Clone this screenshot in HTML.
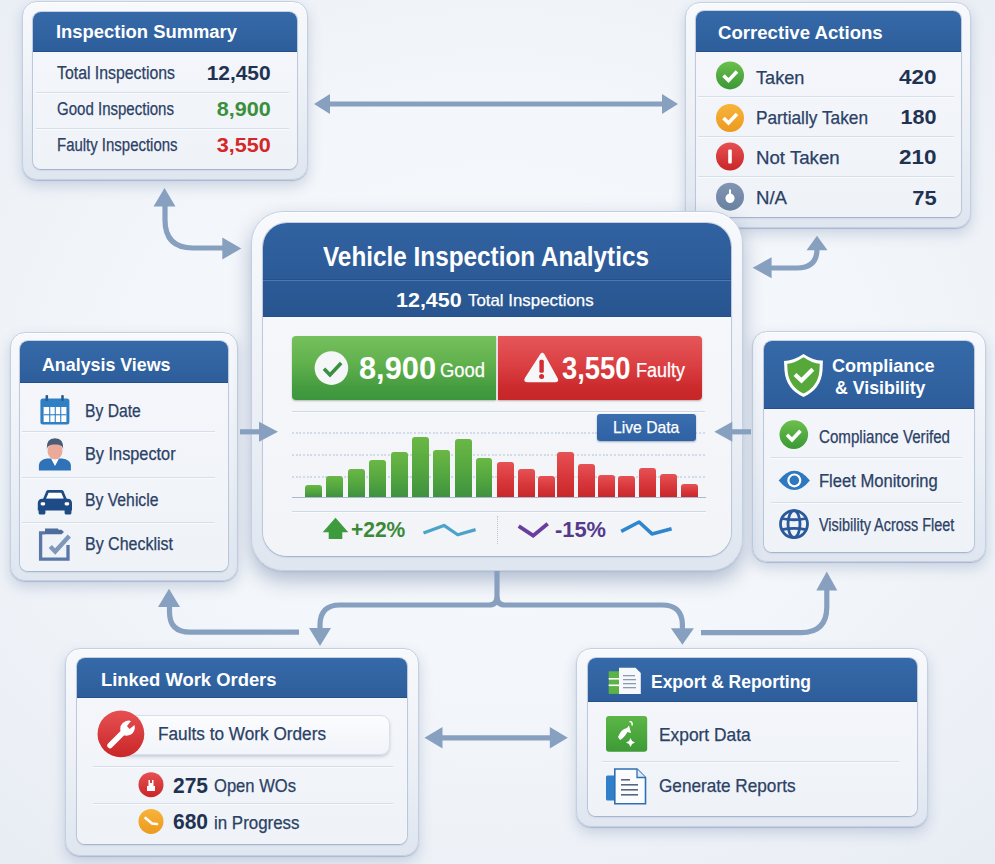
<!DOCTYPE html>
<html><head><meta charset="utf-8"><title>Vehicle Inspection Analytics</title>
<style>
html,body{margin:0;padding:0;}
body{width:995px;height:864px;overflow:hidden;position:relative;font-family:"Liberation Sans",sans-serif;
 background:radial-gradient(ellipse 80% 75% at 50% 45%,#f7f9fc 0%,#f3f6fa 45%,#ecf0f6 80%,#e6ebf3 100%);}
#root{position:absolute;left:0;top:0;width:995px;height:864px;}
.t{position:absolute;white-space:nowrap;line-height:normal;font-family:"Liberation Sans",sans-serif;}
.frame{position:absolute;box-sizing:border-box;border-radius:15px;
 background:linear-gradient(180deg,#f7f9fc 0%,#ecf0f6 55%,#dfe6f0 100%);
 border:1px solid #c4d0e1;
 box-shadow:0 1px 1px #a9b9d0, 0 6px 14px rgba(60,90,140,0.22), inset 0 1px 0 #ffffff;}
.card{position:absolute;box-sizing:border-box;border-radius:8px;overflow:hidden;
 background:linear-gradient(180deg,#f5f7fb 0%,#eff2f7 100%);
 box-shadow:0 1px 2px rgba(70,95,140,0.32), 0 0 0 1px rgba(190,203,222,0.8);}
.hdr{position:absolute;left:0;top:0;right:0;background:linear-gradient(180deg,#3669a8 0%,#3163a1 60%,#2d5d9a 100%);
 box-shadow:inset 0 -1px 0 #24508a;}
.sep{position:absolute;height:1px;background:#d5dde9;box-shadow:0 1px 0 #fafbfd;}
svg{position:absolute;left:0;top:0;overflow:visible;}

.rg{-webkit-text-stroke:0.25px currentColor;}

</style></head><body>
<div id="root">
<div class="frame" style="left:22px;top:1px;width:286px;height:179px;border-radius:15px;"></div>
<div class="card" style="left:33px;top:11.5px;width:264px;height:157.0px;border-radius:8px;"><div class="hdr" style="height:40.0px;"></div></div>
<div class="sep" style="left:36px;top:91.6px;width:253px;background:#d6deea"></div>
<div class="sep" style="left:36px;top:127.5px;width:253px;background:#d6deea"></div>
<div class="frame" style="left:684.5px;top:1.5px;width:286.5px;height:226.0px;border-radius:15px;"></div>
<div class="card" style="left:695.5px;top:11px;width:265.5px;height:206px;border-radius:8px;"><div class="hdr" style="height:40.6px;"></div></div>
<div class="sep" style="left:698px;top:96px;width:256px;background:#d6deea"></div>
<div class="sep" style="left:698px;top:136px;width:256px;background:#d6deea"></div>
<div class="sep" style="left:698px;top:176.3px;width:256px;background:#d6deea"></div>
<div class="frame" style="left:9.7px;top:332px;width:228.3px;height:249px;border-radius:15px;"></div>
<div class="card" style="left:20px;top:341px;width:208px;height:230px;border-radius:8px;"><div class="hdr" style="height:42.19999999999999px;"></div></div>
<div class="sep" style="left:22px;top:430.8px;width:193px;background:#d6deea"></div>
<div class="sep" style="left:22px;top:476.7px;width:193px;background:#d6deea"></div>
<div class="sep" style="left:22px;top:521.5px;width:193px;background:#d6deea"></div>
<div class="frame" style="left:751.6px;top:331.4px;width:234.10000000000002px;height:230.60000000000002px;border-radius:15px;"></div>
<div class="card" style="left:763.7px;top:341px;width:209.89999999999998px;height:210.60000000000002px;border-radius:8px;"><div class="hdr" style="height:67.69999999999999px;"></div></div>
<div class="sep" style="left:771px;top:457.4px;width:191px;background:#d6deea"></div>
<div class="sep" style="left:771px;top:501.5px;width:191px;background:#d6deea"></div>
<div class="frame" style="left:65px;top:647.6px;width:353.6px;height:208.39999999999998px;border-radius:15px;"></div>
<div class="card" style="left:76.7px;top:658px;width:330.3px;height:186.39999999999998px;border-radius:8px;"><div class="hdr" style="height:40px;"></div></div>
<div class="sep" style="left:92.8px;top:766px;width:299.8px;background:#d6deea"></div>
<div class="sep" style="left:92.8px;top:803.3px;width:299.8px;background:#d6deea"></div>
<div class="frame" style="left:576px;top:647.6px;width:351.5px;height:179.39999999999998px;border-radius:15px;"></div>
<div class="card" style="left:587.5px;top:658px;width:329.5px;height:157.70000000000005px;border-radius:8px;"><div class="hdr" style="height:44px;"></div></div>
<div class="sep" style="left:602px;top:760.5px;width:296.79999999999995px;background:#d6deea"></div>
<div class="frame" style="left:250.5px;top:211px;width:492.0px;height:360px;border-radius:32px;box-shadow:0 1px 1px #aebdd3, 0 9px 20px rgba(50,80,130,0.36), inset 0 1px 0 #fff;"></div>
<div class="card" style="left:263px;top:223px;width:468px;height:333.20000000000005px;border-radius:24px;background:linear-gradient(180deg,#f7f8fb 0%,#f2f4f8 100%);"><div class="hdr" style="height:93.69999999999999px;background:linear-gradient(180deg,#3162a1 0%,#2c5b98 55%,#28558f 100%);"></div></div>
<div style="position:absolute;left:263px;top:280px;width:468px;height:1px;background:#4a78b0;box-shadow:0 -1px 0 #24508a"></div>
<div style="position:absolute;left:292px;top:336.4px;width:204.3px;height:64px;border-radius:4px 0 0 4px;background:linear-gradient(180deg,#76c05e 0%,#5fb04c 45%,#459c40 80%,#3d963e 100%);box-shadow:0 1px 2px rgba(40,80,40,0.35)"></div>
<div style="position:absolute;left:497.5px;top:336.4px;width:204.8px;height:64px;border-radius:0 4px 4px 0;background:linear-gradient(180deg,#e5575a 0%,#db4043 45%,#cc2a2d 80%,#c62628 100%);box-shadow:0 1px 2px rgba(90,30,30,0.35)"></div>
<div class="sep" style="left:292px;top:410.8px;width:413px;background:#cfd9e6"></div>
<div class="sep" style="left:292px;top:510.6px;width:414px;background:#cfd9e6"></div>
<div style="position:absolute;left:292px;top:432.3px;width:414px;height:2px;background:repeating-linear-gradient(90deg,#d2dbe8 0 2px,transparent 2px 3.7px)"></div>
<div style="position:absolute;left:292px;top:454.3px;width:414px;height:2px;background:repeating-linear-gradient(90deg,#d2dbe8 0 2px,transparent 2px 3.7px)"></div>
<div style="position:absolute;left:292px;top:476.4px;width:414px;height:2px;background:repeating-linear-gradient(90deg,#d2dbe8 0 2px,transparent 2px 3.7px)"></div>
<div style="position:absolute;left:304.8px;top:485.2px;width:16.8px;height:11.8px;border-radius:3px 3px 0 0;background:linear-gradient(180deg,#6ab745 0%,#55a83f 50%,#3f9140 100%)"></div>
<div style="position:absolute;left:326.4px;top:475.7px;width:16.8px;height:21.3px;border-radius:3px 3px 0 0;background:linear-gradient(180deg,#6ab745 0%,#55a83f 50%,#3f9140 100%)"></div>
<div style="position:absolute;left:347.9px;top:468.6px;width:17.0px;height:28.4px;border-radius:3px 3px 0 0;background:linear-gradient(180deg,#6ab745 0%,#55a83f 50%,#3f9140 100%)"></div>
<div style="position:absolute;left:369.3px;top:460.4px;width:17.0px;height:36.6px;border-radius:3px 3px 0 0;background:linear-gradient(180deg,#6ab745 0%,#55a83f 50%,#3f9140 100%)"></div>
<div style="position:absolute;left:390.5px;top:451.6px;width:17.3px;height:45.4px;border-radius:3px 3px 0 0;background:linear-gradient(180deg,#6ab745 0%,#55a83f 50%,#3f9140 100%)"></div>
<div style="position:absolute;left:412.2px;top:437px;width:17.3px;height:60.0px;border-radius:3px 3px 0 0;background:linear-gradient(180deg,#6ab745 0%,#55a83f 50%,#3f9140 100%)"></div>
<div style="position:absolute;left:433px;top:449.8px;width:17.0px;height:47.2px;border-radius:3px 3px 0 0;background:linear-gradient(180deg,#6ab745 0%,#55a83f 50%,#3f9140 100%)"></div>
<div style="position:absolute;left:454.7px;top:438.7px;width:17.2px;height:58.3px;border-radius:3px 3px 0 0;background:linear-gradient(180deg,#6ab745 0%,#55a83f 50%,#3f9140 100%)"></div>
<div style="position:absolute;left:475.7px;top:457.5px;width:16.8px;height:39.5px;border-radius:3px 3px 0 0;background:linear-gradient(180deg,#6ab745 0%,#55a83f 50%,#3f9140 100%)"></div>
<div style="position:absolute;left:496.8px;top:462.4px;width:17.1px;height:34.6px;border-radius:3px 3px 0 0;background:linear-gradient(180deg,#e65255 0%,#d9393c 50%,#c9282b 100%)"></div>
<div style="position:absolute;left:518px;top:469.2px;width:16.5px;height:27.8px;border-radius:3px 3px 0 0;background:linear-gradient(180deg,#e65255 0%,#d9393c 50%,#c9282b 100%)"></div>
<div style="position:absolute;left:537.8px;top:475.7px;width:16.8px;height:21.3px;border-radius:3px 3px 0 0;background:linear-gradient(180deg,#e65255 0%,#d9393c 50%,#c9282b 100%)"></div>
<div style="position:absolute;left:557px;top:452px;width:17.0px;height:45.0px;border-radius:3px 3px 0 0;background:linear-gradient(180deg,#e65255 0%,#d9393c 50%,#c9282b 100%)"></div>
<div style="position:absolute;left:577.7px;top:463.7px;width:17.0px;height:33.3px;border-radius:3px 3px 0 0;background:linear-gradient(180deg,#e65255 0%,#d9393c 50%,#c9282b 100%)"></div>
<div style="position:absolute;left:598px;top:475.1px;width:16.8px;height:21.9px;border-radius:3px 3px 0 0;background:linear-gradient(180deg,#e65255 0%,#d9393c 50%,#c9282b 100%)"></div>
<div style="position:absolute;left:618.4px;top:476px;width:16.8px;height:21.0px;border-radius:3px 3px 0 0;background:linear-gradient(180deg,#e65255 0%,#d9393c 50%,#c9282b 100%)"></div>
<div style="position:absolute;left:639px;top:467.8px;width:17.3px;height:29.2px;border-radius:3px 3px 0 0;background:linear-gradient(180deg,#e65255 0%,#d9393c 50%,#c9282b 100%)"></div>
<div style="position:absolute;left:659.9px;top:474px;width:17.3px;height:23.0px;border-radius:3px 3px 0 0;background:linear-gradient(180deg,#e65255 0%,#d9393c 50%,#c9282b 100%)"></div>
<div style="position:absolute;left:680.8px;top:484px;width:17.1px;height:13.0px;border-radius:3px 3px 0 0;background:linear-gradient(180deg,#e65255 0%,#d9393c 50%,#c9282b 100%)"></div>
<div style="position:absolute;left:292px;top:496.5px;width:414px;height:1.5px;background:#a9b9cf"></div>
<div style="position:absolute;left:596.6px;top:414px;width:99px;height:26.6px;border-radius:3px;background:linear-gradient(180deg,#3a6eb0 0%,#2f62a3 100%);box-shadow:0 1px 2px rgba(30,60,110,0.4)"></div>
<div style="position:absolute;left:496.5px;top:516px;width:0;height:28px;border-left:1.5px dotted #b9c6d8"></div>
<svg width="995" height="864" viewBox="0 0 995 864">
<circle cx="331.4" cy="368.1" r="16.8" fill="#f4f6f8"/>
<path d="M324 368.7 L330 375 L341.2 363" fill="none" stroke="#3a9040" stroke-width="3.6" stroke-linecap="butt" stroke-linejoin="miter"/>
<path d="M541.3 354 Q542.5 352.5 544 355 L557 378.5 Q558.5 381.5 555 381.5 L527.5 381.5 Q524 381.5 525.5 378.5 Z" fill="#f6f7f9" stroke="#f6f7f9" stroke-width="1.5" stroke-linejoin="round"/>
<rect x="539.4" y="359.8" width="4.4" height="13" rx="1.5" fill="#d22e31"/>
<circle cx="541.6" cy="376.6" r="2.5" fill="#d22e31"/>
<path d="M335.5 517.7 L348.3 532.2 L342.3 532.2 L342.3 539 L328.7 539 L328.7 532.2 L322.7 532.2 Z" fill="#3d9a3d"/>
<polyline points="423.5,533 444,525.4 457.7,534.8 475.6,529.6" fill="none" stroke="#4ba3c9" stroke-width="3.2" stroke-linejoin="round"/>
<polyline points="518.7,526.2 533.2,535.6 547.7,523.7" fill="none" stroke="#6a3d9e" stroke-width="3.8"/>
<polyline points="621.2,531.4 639.1,522 652,533.9 671.6,528.8" fill="none" stroke="#2f86cf" stroke-width="3.6" stroke-linejoin="round"/>
</svg>
<div style="position:absolute;left:118px;top:715px;width:272px;height:40px;border-radius:9px;box-sizing:border-box;background:linear-gradient(180deg,#fbfcfe 0%,#f1f4f9 100%);border:1px solid #d9e0ea;box-shadow:0 2px 3px rgba(80,100,140,0.25)"></div>
<svg width="995" height="864" viewBox="0 0 995 864">
<defs>
<linearGradient id="gG" x1="0" y1="0" x2="0" y2="1"><stop offset="0" stop-color="#6cbf4c"/><stop offset="1" stop-color="#3a9836"/></linearGradient>
<linearGradient id="gO" x1="0" y1="0" x2="0" y2="1"><stop offset="0" stop-color="#f7b43a"/><stop offset="1" stop-color="#ec9a1e"/></linearGradient>
<linearGradient id="gR" x1="0" y1="0" x2="0" y2="1"><stop offset="0" stop-color="#e65052"/><stop offset="1" stop-color="#c92628"/></linearGradient>
<linearGradient id="gB" x1="0" y1="0" x2="0" y2="1"><stop offset="0" stop-color="#8196b3"/><stop offset="1" stop-color="#6a80a0"/></linearGradient>
<linearGradient id="gSq" x1="0" y1="0" x2="0" y2="1"><stop offset="0" stop-color="#5cb646"/><stop offset="1" stop-color="#3d9a36"/></linearGradient>
</defs>
<!-- corrective action icons -->
<circle cx="730" cy="75.4" r="14" fill="url(#gG)"/>
<path d="M723.5 75.5 L728.5 80.5 L737 71.5" fill="none" stroke="#fff" stroke-width="3.6"/>
<circle cx="730" cy="118" r="14" fill="url(#gO)"/>
<path d="M723.5 118 L728.5 123 L737 114" fill="none" stroke="#fff" stroke-width="3.6"/>
<circle cx="730" cy="156.5" r="14" fill="url(#gR)"/>
<rect x="728.2" y="149.5" width="3.6" height="14" rx="1" fill="#fff"/>
<circle cx="730" cy="196.7" r="14" fill="url(#gB)"/>
<path d="M729 189.5 L731 189.5 L731 193.5 Q735 195 734.5 199 Q733.5 203 730 203 Q726.5 203 725.5 199 Q725 195 729 193.5 Z" fill="#fff"/>

<!-- analysis icons -->
<!-- calendar -->
<rect x="40.4" y="398.4" width="29" height="26" rx="2.5" fill="#2f7fc4"/>
<rect x="43.6" y="407" width="22.8" height="15" fill="#ffffff"/>
<g fill="#2f7fc4">
<rect x="49.2" y="407" width="1.1" height="15"/><rect x="54.7" y="407" width="1.1" height="15"/><rect x="60.2" y="407" width="1.1" height="15"/>
<rect x="43.6" y="414.2" width="22.8" height="1.1"/>
</g>
<rect x="45.5" y="395" width="2.6" height="6" rx="1" fill="#2a5a90"/>
<rect x="61.2" y="395" width="2.6" height="6" rx="1" fill="#2a5a90"/>
<!-- person -->
<path d="M38.9 470.6 L38.9 465 Q39.5 459.5 47 458.5 L62 458.5 Q70.3 459.5 70.9 465 L70.9 470.6 Z" fill="#2f72b8"/>
<path d="M51 458.5 L55 466 L59 458.5 Z" fill="#ffffff"/>
<ellipse cx="55" cy="451" rx="7.5" ry="8.5" fill="#eba99a"/>
<path d="M46.8 449 Q46 438.3 55 438.2 Q64 438.3 63.2 449 Q62 444 55 444.5 Q48 444 46.8 449 Z" fill="#4c5c76"/>
<!-- car -->
<path d="M42.8 499.5 L46.3 491.3 Q46.9 490 48.4 490 L61.4 490 Q62.9 490 63.5 491.3 L67 499.5 Z" fill="#1e4b85"/>
<path d="M46 498.8 L48.6 492.8 L61.2 492.8 L63.8 498.8 Z" fill="#ffffff"/>
<path d="M37.8 503.5 Q37.8 498.8 42.3 498.8 L67.7 498.8 Q72 498.8 72 503.5 L72 510.5 L37.8 510.5 Z" fill="#1e4b85"/>
<rect x="38.6" y="508.5" width="6.8" height="6" rx="1.6" fill="#1e4b85"/>
<rect x="64.6" y="508.5" width="6.8" height="6" rx="1.6" fill="#1e4b85"/>
<rect x="40.6" y="502.3" width="4.6" height="3.2" rx="1.4" fill="#fff"/>
<rect x="64.6" y="502.3" width="4.6" height="3.2" rx="1.4" fill="#fff"/>
<!-- checklist -->
<path d="M45 532.8 L40.6 532.8 L40.6 559.2 L68 559.2 L68 545" fill="none" stroke="#5a78a6" stroke-width="3.3"/>
<path d="M45 528.6 L58 528.6 L58.5 529.8 L61.5 529.8 L64 532 L61.5 534.3 L58.5 534.3 L45 534.3 Z" fill="#4f6d9c"/>
<path d="M50.3 546.5 L55.2 551.5 L69.3 536" fill="none" stroke="#7f97b9" stroke-width="4.4"/>
<!-- compliance header shield -->
<path d="M803.5 354 Q793 361 784 361 L784.5 371 Q786 389 803.5 397 Q821 389 822.5 371 L822.9 360.6 Q814 361 803.5 354 Z" fill="#ffffff"/>
<path d="M803.5 357.3 Q794.5 363.3 787.2 363.8 L787.6 371 Q789 386.5 803.5 393.6 Q818 386.5 819.4 371 L819.8 363.8 Q812.5 363.3 803.5 357.3 Z" fill="#56a83a"/>
<path d="M795 374.5 L801.5 380.5 L812.8 369.3" fill="none" stroke="#fff" stroke-width="4.2"/>
<!-- compliance rows -->
<circle cx="793.8" cy="434.6" r="14.3" fill="url(#gG)"/>
<path d="M787 434.8 L792 439.8 L800.5 430.8" fill="none" stroke="#fff" stroke-width="3.6"/>
<path d="M778.7 480.4 Q794.3 461 809.9 480.4 Q794.3 499.5 778.7 480.4 Z" fill="#2e78c0"/>
<circle cx="794.3" cy="480.4" r="7" fill="#fff"/>
<circle cx="794.3" cy="480.4" r="4.8" fill="#2e78c0"/>
<g fill="none" stroke="#2a5a9a" stroke-width="2.8">
<circle cx="794" cy="524.1" r="13.5"/>
<ellipse cx="794" cy="524.1" rx="6" ry="13.5"/>
<path d="M782 518.5 Q794 521 806 518.5 M782 529.7 Q794 527.2 806 529.7"/>
</g>

<!-- linked WO -->
<circle cx="120.9" cy="733.9" r="23.4" fill="url(#gR)"/>
<path d="M110 745.5 L124 731.5" stroke="#fff" stroke-width="5.5" stroke-linecap="round"/>
<path d="M121 734 Q118 724 126 721 Q129 720 131 721 L127 726 L129.5 729 L134.5 725 Q136 731 131 734.5 Q126 737 121 734 Z" fill="#fff"/>
<circle cx="151" cy="784.7" r="12.5" fill="url(#gR)"/>
<path d="M147 786 L155 786 L155 791 L147 791 Z M148.5 786 L148.5 780 L150 780 L150 783 L152 783 L152 780 L153.5 780 L153.5 786" fill="#fff"/>
<circle cx="151" cy="821.4" r="12.5" fill="url(#gO)"/>
<path d="M145.5 818 L152 823.5 L157 824" fill="none" stroke="#fff" stroke-width="2.6" stroke-linecap="round"/>

<!-- export header icon -->
<rect x="608.7" y="671.3" width="13" height="22.6" fill="#5cb246"/>
<rect x="608.7" y="678" width="13" height="1.6" fill="#fff"/><rect x="608.7" y="684.5" width="13" height="1.6" fill="#fff"/>
<path d="M619 667.8 L635.5 667.8 L640.8 673 L640.8 693.9 L619 693.9 Z" fill="#f6f8fb"/>
<g fill="#8a9ab0"><rect x="623" y="675" width="12" height="1.3"/><rect x="623" y="679" width="13" height="1.3"/><rect x="623" y="683" width="13" height="1.3"/><rect x="623" y="687" width="13" height="1.3"/></g>
<!-- export data square -->
<rect x="606" y="715.9" width="41.2" height="35.8" rx="3" fill="url(#gSq)"/>
<path d="M618 737 Q621 729 627 728 L629 725.5 L631 733 L627.5 732 Q624 738 620 740 Z" fill="#fff"/>
<path d="M629.5 721.5 Q633 722 632 725.5" fill="none" stroke="#fff" stroke-width="1.6"/>
<path d="M630.5 738 L632 741 L635 742.5 L632 744 L630.5 747 L629 744 L626 742.5 L629 741 Z" fill="#fff"/>
<!-- generate reports doc -->
<rect x="606" y="775.5" width="13" height="25" rx="1.5" fill="#2f80c8"/>
<path d="M614.8 769 L637 769 L645.5 777.5 L645.5 803.8 L614.8 803.8 Z" fill="#fbfcfe" stroke="#2f6fb5" stroke-width="1.6"/>
<path d="M637 769 L637 777.5 L645.5 777.5" fill="#dfe8f3" stroke="#2f6fb5" stroke-width="1.3"/>
<g fill="#56677f"><rect x="621" y="779" width="9" height="1.6"/><rect x="621" y="784" width="17" height="1.6"/><rect x="621" y="789" width="17" height="1.6"/><rect x="621" y="794" width="17" height="1.6"/></g>
</svg>
<svg width="995" height="864" viewBox="0 0 995 864"><g fill="none" stroke="#88a0bf" stroke-width="5.2">
<path d="M328 104 L665 104"/>
<path d="M165 204 L165 220 Q165 248 193 248 L224 248"/>
<path d="M817 249 Q817 268 797 268 L770 268"/>
<path d="M240 431.8 L261 431.8"/>
<path d="M730 431.8 L751 431.8"/>
<path d="M497 571 L497 597 Q497 605 489 605 L340 605 Q320 605 320 625 L320 631"/>
<path d="M497 597 Q497 605 505 605 L662 605 Q682.4 605 682.4 625 L682.4 630"/>
<path d="M169.5 604 L169.5 612 Q169.5 632.2 190 632.2 L299 632.2"/>
<path d="M701 632.6 L801 632.6 Q826.8 632.6 826.8 607 L826.8 588"/>
<path d="M440 737.8 L552 737.8"/>
</g>
<polygon points="314.0,104.0 330.0,94.0 330.0,114.0" fill="#88a0bf"/>
<polygon points="678.0,104.0 662.0,94.0 662.0,114.0" fill="#88a0bf"/>
<polygon points="164.5,188.0 153.5,206.5 175.5,206.5" fill="#88a0bf"/>
<polygon points="241.3,248.5 222.3,237.5 222.3,259.5" fill="#88a0bf"/>
<polygon points="817.0,235.7 806.5,250.2 827.5,250.2" fill="#88a0bf"/>
<polygon points="752.6,267.8 771.6,257.3 771.6,278.3" fill="#88a0bf"/>
<polygon points="278.0,431.8 259.0,421.8 259.0,441.8" fill="#88a0bf"/>
<polygon points="714.3,431.8 732.3,421.8 732.3,441.8" fill="#88a0bf"/>
<polygon points="320.0,646.0 309.0,628.0 331.0,628.0" fill="#88a0bf"/>
<polygon points="682.4,644.8 670.9,628.3 693.9,628.3" fill="#88a0bf"/>
<polygon points="169.0,588.8 158.0,607.0 180.0,607.0" fill="#88a0bf"/>
<polygon points="826.8,571.5 816.3,590.5 837.3,590.5" fill="#88a0bf"/>
<polygon points="424.5,737.8 442.5,726.9 442.5,748.6" fill="#88a0bf"/>
<polygon points="567.8,737.8 549.8,726.9 549.8,748.6" fill="#88a0bf"/>
</svg>

<div class="t" style="left:55.5px;top:22.2px;font-size:18px;font-weight:700;color:#ffffff;transform-origin:left center;transform:scaleX(1.0223);">Inspection Summary</div>
<div class="t rg" style="left:57.1px;top:63.0px;font-size:18px;font-weight:400;color:#2b4166;transform-origin:left center;transform:scaleX(0.8801);">Total Inspections</div>
<div class="t rg" style="left:57.1px;top:98.9px;font-size:18px;font-weight:400;color:#2b4166;transform-origin:left center;transform:scaleX(0.8352);">Good Inspections</div>
<div class="t rg" style="left:57.1px;top:134.8px;font-size:18px;font-weight:400;color:#2b4166;transform-origin:left center;transform:scaleX(0.8306);">Faulty Inspections</div>
<div class="t" style="right:724.0px;top:62.4px;font-size:19.5px;font-weight:700;color:#1f3252;transform-origin:right center;transform:scaleX(1.0731);">12,450</div>
<div class="t" style="right:724.0px;top:98.3px;font-size:19.5px;font-weight:700;color:#3b8f3b;transform-origin:right center;transform:scaleX(1.1066);">8,900</div>
<div class="t" style="right:724.0px;top:134.1px;font-size:19.5px;font-weight:700;color:#d42828;transform-origin:right center;transform:scaleX(1.1066);">3,550</div>
<div class="t" style="left:718.4px;top:22.4px;font-size:18.5px;font-weight:700;color:#ffffff;transform-origin:left center;transform:scaleX(1.0054);">Corrective Actions</div>
<div class="t rg" style="left:755.6px;top:66.5px;font-size:18.5px;font-weight:400;color:#2b4166;transform-origin:left center;transform:scaleX(0.9804);">Taken</div>
<div class="t rg" style="left:755.6px;top:106.7px;font-size:18.5px;font-weight:400;color:#2b4166;transform-origin:left center;transform:scaleX(0.9335);">Partially Taken</div>
<div class="t rg" style="left:755.6px;top:146.6px;font-size:18.5px;font-weight:400;color:#2b4166;transform-origin:left center;transform:scaleX(1.0089);">Not Taken</div>
<div class="t rg" style="left:755.6px;top:187.4px;font-size:18.5px;font-weight:400;color:#2b4166;transform-origin:left center;transform:scaleX(1.0052);">N/A</div>
<div class="t" style="right:58.8px;top:65.6px;font-size:19.5px;font-weight:700;color:#1f3252;transform-origin:right center;transform:scaleX(1.1525);">420</div>
<div class="t" style="right:58.8px;top:105.8px;font-size:19.5px;font-weight:700;color:#1f3252;transform-origin:right center;transform:scaleX(1.1064);">180</div>
<div class="t" style="right:58.8px;top:145.7px;font-size:19.5px;font-weight:700;color:#1f3252;transform-origin:right center;transform:scaleX(1.1525);">210</div>
<div class="t" style="right:58.8px;top:186.5px;font-size:19.5px;font-weight:700;color:#1f3252;transform-origin:right center;transform:scaleX(1.1249);">75</div>
<div class="t" style="left:322.6px;top:240.8px;font-size:28px;font-weight:700;color:#ffffff;transform-origin:left center;transform:scaleX(0.8681);">Vehicle Inspection Analytics</div>
<div class="t" style="left:396.0px;top:288.7px;font-size:19.5px;font-weight:700;color:#ffffff;transform-origin:left center;transform:scaleX(1.1016);">12,450</div>
<div class="t rg" style="left:467.8px;top:291.4px;font-size:16.5px;font-weight:400;color:#ffffff;transform-origin:left center;transform:scaleX(1.0219);">Total Inspections</div>
<div class="t" style="left:358.5px;top:349.9px;font-size:31.5px;font-weight:700;color:#ffffff;transform-origin:left center;transform:scaleX(0.9768);">8,900</div>
<div class="t rg" style="left:440.0px;top:358.8px;font-size:19.5px;font-weight:400;color:#ffffff;transform-origin:left center;transform:scaleX(0.9433);">Good</div>
<div class="t" style="left:562.0px;top:349.9px;font-size:31.5px;font-weight:700;color:#ffffff;transform-origin:left center;transform:scaleX(0.8690);">3,550</div>
<div class="t rg" style="left:636.0px;top:358.8px;font-size:19.5px;font-weight:400;color:#ffffff;transform-origin:left center;transform:scaleX(0.9227);">Faulty</div>
<div class="t rg" style="left:613.0px;top:418.0px;font-size:17px;font-weight:400;color:#ffffff;transform-origin:left center;transform:scaleX(0.9231);">Live Data</div>
<div class="t" style="left:350.7px;top:516.5px;font-size:22px;font-weight:700;color:#3a8a3a;transform-origin:left center;transform:scaleX(0.9546);">+22%</div>
<div class="t" style="left:555.0px;top:516.5px;font-size:22px;font-weight:700;color:#553a8c;transform-origin:left center;transform:scaleX(0.9930);">-15%</div>
<div class="t" style="left:41.5px;top:354.1px;font-size:18.5px;font-weight:700;color:#ffffff;transform-origin:left center;transform:scaleX(0.9636);">Analysis Views</div>
<div class="t rg" style="left:84.6px;top:400.8px;font-size:17.5px;font-weight:400;color:#2b4166;transform-origin:left center;transform:scaleX(0.8964);">By Date</div>
<div class="t rg" style="left:84.6px;top:444.1px;font-size:17.5px;font-weight:400;color:#2b4166;transform-origin:left center;transform:scaleX(0.9315);">By Inspector</div>
<div class="t rg" style="left:84.6px;top:489.5px;font-size:17.5px;font-weight:400;color:#2b4166;transform-origin:left center;transform:scaleX(0.8994);">By Vehicle</div>
<div class="t rg" style="left:84.6px;top:533.7px;font-size:17.5px;font-weight:400;color:#2b4166;transform-origin:left center;transform:scaleX(0.9140);">By Checklist</div>
<div class="t" style="left:832.0px;top:354.9px;font-size:18.5px;font-weight:700;color:#ffffff;transform-origin:left center;transform:scaleX(0.9775);">Compliance</div>
<div class="t" style="left:835.0px;top:376.9px;font-size:18.5px;font-weight:700;color:#ffffff;transform-origin:left center;transform:scaleX(0.9603);">&amp; Visibility</div>
<div class="t rg" style="left:818.7px;top:426.8px;font-size:17.5px;font-weight:400;color:#2b4166;transform-origin:left center;transform:scaleX(0.8633);">Compliance Verifed</div>
<div class="t rg" style="left:818.7px;top:471.1px;font-size:17.5px;font-weight:400;color:#2b4166;transform-origin:left center;transform:scaleX(0.9468);">Fleet Monitoring</div>
<div class="t rg" style="left:818.7px;top:514.7px;font-size:17.5px;font-weight:400;color:#2b4166;transform-origin:left center;transform:scaleX(0.8248);">Visibility Across Fleet</div>
<div class="t" style="left:100.5px;top:669.3px;font-size:19px;font-weight:700;color:#ffffff;transform-origin:left center;transform:scaleX(0.9683);">Linked Work Orders</div>
<div class="t rg" style="left:157.7px;top:723.6px;font-size:18px;font-weight:400;color:#2b4166;transform-origin:left center;transform:scaleX(0.9561);">Faults to Work Orders</div>
<div class="t" style="left:172.5px;top:772.5px;font-size:22.5px;font-weight:700;color:#1f3252;transform-origin:left center;transform:scaleX(0.9323);">275</div>
<div class="t rg" style="left:213.5px;top:776.4px;font-size:18px;font-weight:400;color:#2b4166;transform-origin:left center;transform:scaleX(0.9211);">Open WOs</div>
<div class="t" style="left:172.5px;top:809.0px;font-size:22.5px;font-weight:700;color:#1f3252;transform-origin:left center;transform:scaleX(0.9323);">680</div>
<div class="t rg" style="left:213.5px;top:812.6px;font-size:18px;font-weight:400;color:#2b4166;transform-origin:left center;transform:scaleX(0.9392);">in Progress</div>
<div class="t" style="left:651.0px;top:671.2px;font-size:19px;font-weight:700;color:#ffffff;transform-origin:left center;transform:scaleX(0.9187);">Export &amp; Reporting</div>
<div class="t rg" style="left:659.3px;top:724.4px;font-size:18.5px;font-weight:400;color:#2b4166;transform-origin:left center;transform:scaleX(0.9387);">Export Data</div>
<div class="t rg" style="left:658.5px;top:775.2px;font-size:18.5px;font-weight:400;color:#2b4166;transform-origin:left center;transform:scaleX(0.9282);">Generate Reports</div>

</div>
</body></html>
